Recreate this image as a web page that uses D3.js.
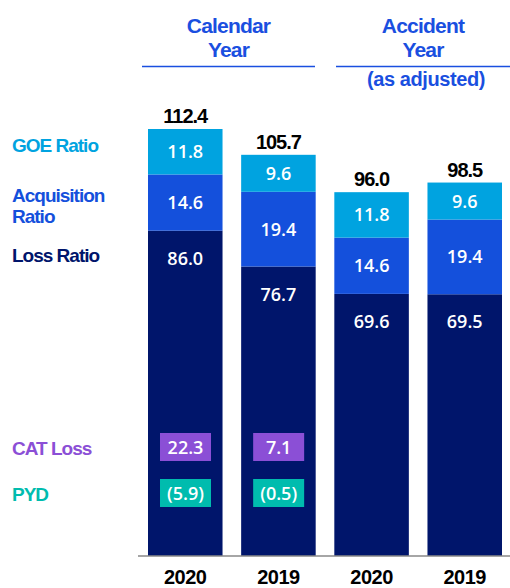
<!DOCTYPE html>
<html>
<head>
<meta charset="utf-8">
<script src="https://cdn.jsdelivr.net/npm/d3@7"></script>
<style>
  body { margin: 0; background: #fff; }
  svg text { font-family: "Liberation Sans", Arial, sans-serif; }
</style>
</head>
<body>
<div class="canvas"></div>
<script>
// data
var bars = ["CY2020", "CY2019", "AY2020", "AY2019"]
var yearLabels = ["2020", "2019", "2020", "2019"]
var lossRatio = [86.0, 76.7, 69.6, 69.5]
var acqRatio = [14.6, 19.4, 14.6, 19.4]
var goeRatio = [11.8, 9.6, 11.8, 9.6]
var totals = [112.4, 105.7, 96.0, 98.5]
var catLoss = ["22.3", "7.1", null, null]
var pyd = ["(5.9)", "(0.5)", null, null]

var colors = { loss: "#00156b", acq: "#1450dc", goe: "#00a3e0", cat: "#8b4fd6", pyd: "#00bcae" }

var width = 510, height = 588
var axisY = 556

var svg = d3.select(".canvas").append("svg")
    .attr("width", width)
    .attr("height", height)

var x = d3.scaleBand().domain(bars).range([148, 502]).paddingInner(0.2).paddingOuter(0)
// zero sits a little below the axis line; bars are cut at the axis
var y = d3.scaleLinear().domain([0, 112.4]).range([562, 129])

// stack the three ratios
var rows = bars.map(function(b, i) {
  return { key: b, loss: lossRatio[i], acq: acqRatio[i], goe: goeRatio[i] }
})
var stack = d3.stack().keys(["loss", "acq", "goe"])(rows)

var layer = svg.selectAll("g.layer")
  .data(stack)
  .join("g")
  .attr("class", "layer")
  .attr("fill", function(d) { return colors[d.key] })

layer.selectAll("rect")
  .data(function(d) { return d })
  .join("rect")
  .attr("x", function(d) { return x(d.data.key) })
  .attr("width", x.bandwidth())
  .attr("y", function(d) { return y(d[1]) })
  .attr("height", function(d) { return Math.min(y(d[0]), axisY) - y(d[1]) })

// segment labels
stack.forEach(function(s) {
  svg.append("g").selectAll("text")
    .data(s)
    .join("text")
    .attr("x", function(d) { return x(d.data.key) + x.bandwidth() / 2 })
    .attr("y", function(d) {
      if (s.key == "loss") return y(d[1]) + 34
      return (y(d[0]) + y(d[1])) / 2 + 6.5
    })
    .attr("text-anchor", "middle")
    .attr("fill", "#fff")
    .style("font-family", "'Open Sans', sans-serif")
    .style("font-weight", "600")
    .style("font-size", "18px")
    .text(function(d) { return (d[1] - d[0]).toFixed(1) })
})

// totals
svg.append("g").selectAll("text")
  .data(totals)
  .join("text")
  .attr("x", function(d, i) { return x(bars[i]) + x.bandwidth() / 2 })
  .attr("y", function(d) { return y(d) - 6 })
  .attr("text-anchor", "middle")
  .attr("fill", "#000")
  .style("font-weight", "bold")
  .style("font-size", "20px")
  .style("letter-spacing", "-1px")
  .text(function(d) { return d.toFixed(1) })

// CAT loss and PYD boxes
function boxRow(vals, color, top) {
  var g = svg.append("g")
  var items = vals.map(function(v, i) { return { v: v, b: bars[i] } }).filter(function(d) { return d.v })
  g.selectAll("rect")
    .data(items)
    .join("rect")
    .attr("x", function(d) { return x(d.b) + 12 })
    .attr("y", top)
    .attr("width", 51)
    .attr("height", 28)
    .attr("fill", color)
  g.selectAll("text")
    .data(items)
    .join("text")
    .attr("x", function(d) { return x(d.b) + 12 + 25.5 })
    .attr("y", top + 20.5)
    .attr("text-anchor", "middle")
    .attr("fill", "#fff")
    .style("font-family", "'Open Sans', sans-serif")
    .style("font-weight", "600")
    .style("font-size", "18px")
    .text(function(d) { return d.v })
}
boxRow(catLoss, colors.cat, 433)
boxRow(pyd, colors.pyd, 479)

// baseline
svg.append("line")
  .attr("x1", 138).attr("x2", 510)
  .attr("y1", axisY).attr("y2", axisY)
  .attr("stroke", "#888").attr("stroke-width", 1.5)

// year labels
svg.append("g").selectAll("text")
  .data(yearLabels)
  .join("text")
  .attr("x", function(d, i) { return x(bars[i]) + x.bandwidth() / 2 })
  .attr("y", 584)
  .attr("text-anchor", "middle")
  .attr("fill", "#000")
  .style("font-weight", "bold")
  .style("font-size", "20px")
  .style("letter-spacing", "-0.5px")
  .text(function(d) { return d })

// group headers
var headers = [
  { lines: ["Calendar", "Year"], x0: 142, x1: 315 },
  { lines: ["Accident", "Year"], x0: 336, x1: 510 }
]
headers.forEach(function(h) {
  var cx = (h.x0 + h.x1) / 2
  h.lines.forEach(function(t, i) {
    svg.append("text")
      .attr("x", cx).attr("y", 33 + i * 24)
      .attr("text-anchor", "middle")
      .attr("fill", "#1a4fe0")
      .style("font-weight", "bold")
      .style("font-size", "21px")
      .style("letter-spacing", "-0.8px")
      .text(t)
  })
  svg.append("line")
    .attr("x1", h.x0).attr("x2", h.x1)
    .attr("y1", 66.5).attr("y2", 66.5)
    .attr("stroke", "#1a4fe0").attr("stroke-width", 1.5)
})
svg.append("text")
  .attr("x", 426).attr("y", 86)
  .attr("text-anchor", "middle")
  .attr("fill", "#1a4fe0")
  .style("font-weight", "bold")
  .style("font-size", "20px")
  .style("letter-spacing", "-0.4px")
  .text("(as adjusted)")

// left legend labels
var legendLabels = [
  { t: ["GOE Ratio"], c: colors.goe, y: 152 },
  { t: ["Acquisition", "Ratio"], c: colors.acq, y: 202 },
  { t: ["Loss Ratio"], c: colors.loss, y: 262 },
  { t: ["CAT Loss"], c: colors.cat, y: 455 },
  { t: ["PYD"], c: colors.pyd, y: 501 }
]
legendLabels.forEach(function(l) {
  l.t.forEach(function(t, i) {
    svg.append("text")
      .attr("x", 12).attr("y", l.y + i * 21)
      .attr("fill", l.c)
      .style("font-weight", "bold")
      .style("font-size", "19px")
      .style("letter-spacing", "-1px")
      .text(t)
  })
})
</script>
</body>
</html>
